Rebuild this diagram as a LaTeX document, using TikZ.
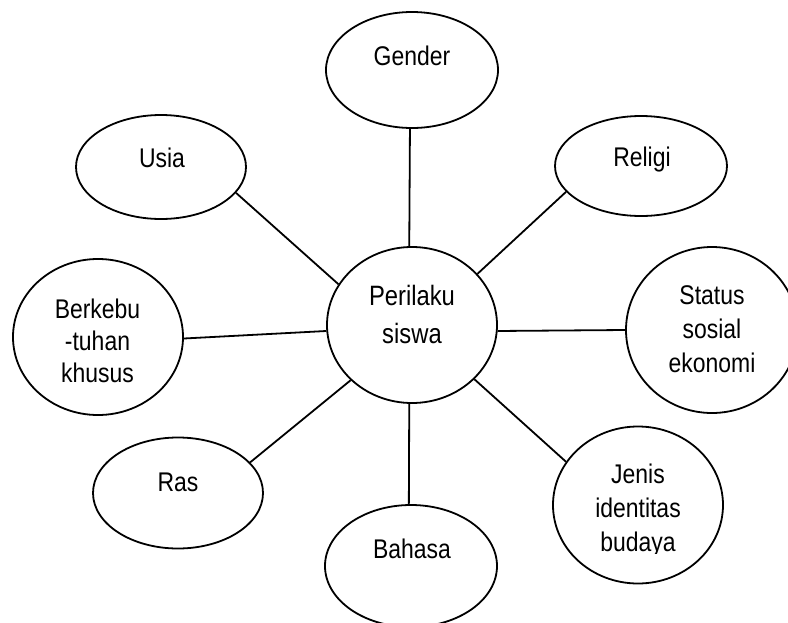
\documentclass[tikz,border=0pt]{standalone}
\usepackage{fontspec}
\setmainfont{Liberation Sans}[FakeStretch=0.85]
\usetikzlibrary{shapes.geometric}
\begin{document}
\begin{tikzpicture}[x=1pt,y=-1pt,
  bub/.style={ellipse,draw=black,line width=1.8pt,inner sep=0pt,fill=white},
  link/.style={line width=1.8pt,draw=black},
  txt/.style={inner sep=0pt,anchor=base,font=\fontsize{27}{32}\selectfont},
  ctxt/.style={inner sep=0pt,anchor=base,font=\fontsize{28}{33}\selectfont}]
\useasboundingbox (0,0) rectangle (788,622);
\clip (0,0) rectangle (788,622);
\fill[white] (0,0) rectangle (788,622);
% bubbles
\node[bub,minimum width=170pt,minimum height=156pt] (c)  at (412,325) {};
\node[bub,minimum width=172pt,minimum height=116pt] (g)  at (412,70)  {};
\node[bub,minimum width=170pt,minimum height=104pt] (u)  at (161,167) {};
\node[bub,minimum width=172pt,minimum height=100pt] (r)  at (641,166) {};
\node[bub,minimum width=170pt,minimum height=156pt] (b)  at (98,337)  {};
\node[bub,minimum width=172pt,minimum height=166pt] (s)  at (712,330) {};
\node[bub,minimum width=170pt,minimum height=111pt] (ra) at (178,493) {};
\node[bub,minimum width=170pt,minimum height=157pt] (j)  at (638,505) {};
\node[bub,minimum width=172pt,minimum height=122pt] (ba) at (411,566) {};
% connectors
\draw[link] (g.268) -- (c.92);
\draw[link] (u.-19) -- (c.151.6);
\draw[link] (b.-1) -- (c.184);
\draw[link] (r.199.8) -- (c.38.7);
\draw[link] (s.180) -- (c.-4);
\draw[link] (ra.23.5) -- (c.222);
\draw[link] (j.149.5) -- (c.-41.2);
\draw[link] (ba.92) -- (c.268);
% texts
\node[ctxt] (tc1) at (412,305) {Perilaku};
\node[ctxt] (tc2) at (412,343) {siswa};
\node[txt] (tg) at (412,65) {Gender};
\node[txt] (tu) at (162,167) {Usia};
\node[txt] (tr) at (642,166) {Religi};
\node[txt] (tb1) at (97.5,318) {Berkebu};
\node[txt] (tb2) at (97.5,350) {-tuhan};
\node[txt] (tb3) at (97.5,382) {khusus};
\node[txt] (ts1) at (712,304) {Status};
\node[txt] (ts2) at (712,338) {sosial};
\node[txt] (ts3) at (712,372) {ekonomi};
\node[txt] (tj1) at (638,483) {Jenis};
\node[txt] (tj2) at (638,517) {identitas};
\begin{scope}
\clip (540,0) rectangle (740,553.5);
\node[txt] (tj3) at (638,551) {budaya};
\end{scope}
\node[txt] (tra) at (178,491) {Ras};
\node[txt] (tba) at (412,558) {Bahasa};
\end{tikzpicture}
\end{document}
